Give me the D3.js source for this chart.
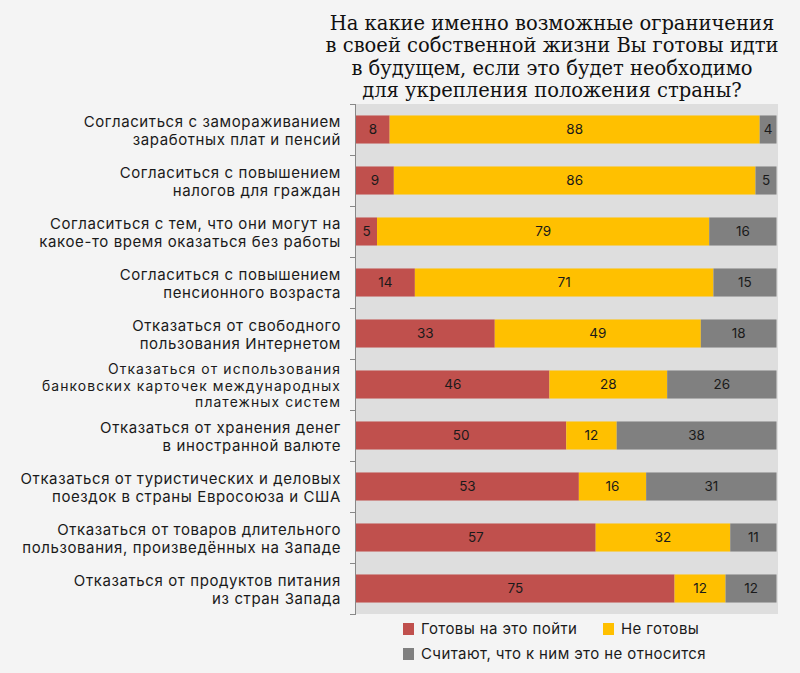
<!DOCTYPE html>
<html><head><meta charset="utf-8">
<script src="https://cdn.jsdelivr.net/npm/d3@7"></script>
<style>
html,body{margin:0;padding:0;background:#f4f4f4;}
svg{display:block;}
</style></head>
<body>
<svg id="chart" width="800" height="673"></svg>
<script>
const titleLines = [
  "На какие именно возможные ограничения",
  "в своей собственной жизни Вы готовы идти",
  "в будущем, если это будет необходимо",
  "для укрепления положения страны?"
];
const categories = [
  ["Согласиться с замораживанием", "заработных плат и пенсий"],
  ["Согласиться с повышением", "налогов для граждан"],
  ["Согласиться с тем, что они могут на", "какое-то время оказаться без работы"],
  ["Согласиться с повышением", "пенсионного возраста"],
  ["Отказаться от свободного", "пользования Интернетом"],
  ["Отказаться от использования", "банковских карточек международных", "платежных систем"],
  ["Отказаться от хранения денег", "в иностранной валюте"],
  ["Отказаться от туристических и деловых", "поездок в страны Евросоюза и США"],
  ["Отказаться от товаров длительного", "пользования, произведённых на Западе"],
  ["Отказаться от продуктов питания", "из стран Запада"]
];
const seriesNames = ["Готовы на это пойти", "Не готовы", "Считают, что к ним это не относится"];
const ready = [8, 9, 5, 14, 33, 46, 50, 53, 57, 75];
const notReady = [88, 86, 79, 71, 49, 28, 12, 16, 32, 12];
const notApplicable = [4, 5, 16, 15, 18, 26, 38, 31, 11, 12];
const colors = ["#c0504d", "#ffc000", "#808080"];

const svg = d3.select("#chart");
const labelFont = "Inter, 'Open Sans', sans-serif";
const titleFont = "'DejaVu Serif', serif";

const plot = {left: 356, right: 778, top: 104, bottom: 614};
const rows = categories.map((c, i) => ({idx: i, label: c, v: [ready[i], notReady[i], notApplicable[i]]}));

const y = d3.scaleBand().domain(d3.range(rows.length)).range([plot.top, plot.bottom]).paddingInner(0.45).paddingOuter(0.225);
const x = d3.scaleLinear().domain([0, 1]).range([plot.left, plot.right - 1.5]);

// background
svg.append("rect").attr("x", plot.left).attr("y", plot.top)
  .attr("width", plot.right - plot.left).attr("height", plot.bottom - plot.top).attr("fill", "#dedede");

// title
const title = svg.append("text").attr("font-family", titleFont).attr("font-size", 19.5)
  .attr("fill", "#111").attr("text-anchor", "middle");
titleLines.forEach((t, i) => title.append("tspan").attr("x", 552).attr("y", 30 + i * 22.3).text(t));

// stack (normalised to 100%)
const stackData = rows.map(r => ({idx: r.idx, a: r.v[0], b: r.v[1], c: r.v[2]}));
const stack = d3.stack().keys(["a", "b", "c"]).offset(d3.stackOffsetExpand);
const series = stack(stackData);
const raw = {a: ready, b: notReady, c: notApplicable};

const g = svg.append("g");
series.forEach((s, si) => {
  const sg = g.append("g");
  sg.selectAll("rect").data(s).join("rect")
    .attr("x", d => x(d[0]))
    .attr("y", d => y(d.data.idx))
    .attr("width", d => x(d[1]) - x(d[0]))
    .attr("height", y.bandwidth())
    .attr("fill", colors[si]);
  sg.selectAll("text").data(s).join("text")
    .attr("x", d => (x(d[0]) + x(d[1])) / 2)
    .attr("y", d => y(d.data.idx) + y.bandwidth() / 2)
    .attr("dy", "0.36em")
    .attr("text-anchor", "middle")
    .attr("font-family", labelFont).attr("font-size", 13.5).attr("fill", "#1a1a1a")
    .text(d => raw[s.key][d.data.idx]);
});

// axis (vertical line with ticks at band boundaries)
const axisG = svg.append("g");
axisG.append("line").attr("x1", plot.left - 0.5).attr("x2", plot.left - 0.5)
  .attr("y1", plot.top).attr("y2", plot.bottom).attr("stroke", "#888").attr("stroke-width", 1);
const bounds = d3.range(rows.length + 1).map(i => plot.top + i * (plot.bottom - plot.top) / rows.length);
axisG.selectAll("line.tick").data(bounds).join("line").attr("class", "tick")
  .attr("x1", plot.left - 6).attr("x2", plot.left)
  .attr("y1", d => Math.round(d) + 0.5).attr("y2", d => Math.round(d) + 0.5)
  .attr("stroke", "#888");

// category labels
rows.forEach(r => {
  const cy = y(r.idx) + y.bandwidth() / 2 + 1;
  const n = r.label.length;
  const lh = n === 3 ? 16.9 : 18.5;
  const t = svg.append("text").attr("font-family", labelFont)
    .attr("font-size", n === 3 ? 13.9 : 15)
    .attr("letter-spacing", n === 3 ? "1.1px" : "0.6px")
    .attr("fill", "#1a1a1a").attr("text-anchor", "end");
  r.label.forEach((line, li) => {
    t.append("tspan").attr("x", 341).attr("y", cy + (li - (n - 1) / 2) * lh).attr("dy", "0.36em").text(line);
  });
});

// legend
const legendItems = [
  {name: seriesNames[0], color: colors[0], x: 403, y: 629},
  {name: seriesNames[1], color: colors[1], x: 603, y: 629},
  {name: seriesNames[2], color: colors[2], x: 403, y: 654}
];
const lg = svg.append("g");
legendItems.forEach(it => {
  lg.append("rect").attr("x", it.x).attr("y", it.y - 6).attr("width", 11).attr("height", 12).attr("fill", it.color);
  lg.append("text").attr("x", it.x + 18).attr("y", it.y).attr("dy", "0.36em")
    .attr("font-family", labelFont).attr("font-size", 15).attr("letter-spacing", "0.4px")
    .attr("fill", "#1a1a1a").text(it.name);
});
</script>
</body></html>
